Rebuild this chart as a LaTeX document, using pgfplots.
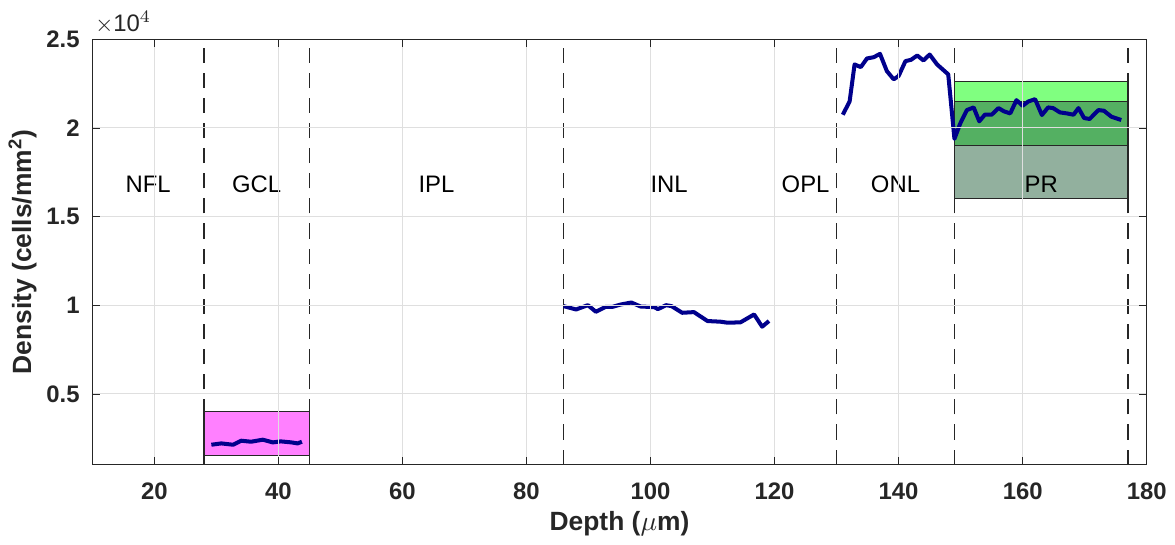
\documentclass[border=0pt]{standalone}
\usepackage{fontspec}
\setmainfont{Liberation Sans}
\usepackage{pgfplots}
\pgfplotsset{compat=1.18}

\definecolor{navyline}{RGB}{0,0,140}
\definecolor{axgrey}{RGB}{38,38,38}
\definecolor{gcl}{RGB}{255,128,255}
\definecolor{prtop}{RGB}{128,255,128}
\definecolor{prmid}{RGB}{84,176,98}
\definecolor{prbot}{RGB}{146,176,158}

\begin{document}
\begin{tikzpicture}
\begin{axis}[
    scale only axis,
    width=14.75cm, height=5.95cm,
    xmin=10, xmax=180,
    ymin=1000, ymax=25000,
    scaled y ticks=false,
    xtick={20,40,...,180},
    ytick={5000,10000,15000,20000,25000},
    yticklabels={0.5,1,1.5,2,2.5},
    tick align=inside,
    tick pos=both,
    major tick length=3pt,
    grid=major,
    major grid style={gray!25, line width=0.4pt},
    axis line style={axgrey, line width=0.5pt},
    tick style={axgrey},
    axis on top,
    font=\fontsize{9}{10}\selectfont,
    ticklabel style={font=\fontsize{9.5}{10}\selectfont\bfseries, text=axgrey},
    /pgf/number format/assume math mode=true,
    xlabel={\textbf{Depth (}$\mu$\textbf{m)}},
    ylabel={\textbf{Density (cells/mm\textsuperscript{2})}},
    label style={text=axgrey, font=\fontsize{10.5}{11}\selectfont},
    xticklabel style={yshift=-3.5pt},
    yticklabel style={xshift=-1.5pt},
    xlabel style={yshift=2pt},
    ylabel style={yshift=-3pt},
    clip=false,
]
% shaded reference ranges
\addplot[fill=gcl, draw=axgrey, line width=0.5pt] coordinates {(28,1500)(45,1500)(45,4000)(28,4000)} -- cycle;
\addplot[fill=prtop, draw=axgrey, line width=0.5pt] coordinates {(149,21500)(177,21500)(177,22600)(149,22600)} -- cycle;
\addplot[fill=prmid, draw=axgrey, line width=0.5pt] coordinates {(149,19000)(177,19000)(177,21500)(149,21500)} -- cycle;
\addplot[fill=prbot, draw=axgrey, line width=0.5pt] coordinates {(149,16000)(177,16000)(177,19000)(149,19000)} -- cycle;

% layer boundaries
\pgfplotsinvokeforeach{28,45,86,120,130,149,177}{
  \addplot[axgrey, line width=0.6pt, dash pattern=on 6pt off 4pt] coordinates {(#1,1000)(#1,25000)};
}

% density profiles
\addplot[navyline, line width=1.6pt, line join=round] coordinates {
(29.2,2125)(30.8,2200)(32.7,2125)(34.0,2352)(35.6,2295)(37.5,2409)
(39.1,2257)(40.4,2314)(42.1,2257)(43.1,2200)(43.8,2295)
};
\addplot[navyline, line width=1.6pt, line join=round] coordinates {
(86.0,9944)(88.0,9757)(89.9,10000)(91.2,9627)(92.8,9907)(93.9,9907)
(95.2,10037)(96.9,10150)(98.4,9925)(100.6,9888)(101.2,9776)(102.5,10000)
(103.4,9944)(105.1,9571)(107.0,9608)(109.2,9104)(111.3,9067)(112.4,9011)
(114.5,9030)(116.7,9477)(118.0,8787)(119.1,9104)
};
\addplot[navyline, line width=1.6pt, line join=round] coordinates {
(131.0,20746)(132.1,21493)(132.9,23583)(133.9,23433)(134.9,23919)(136.0,23993)
(137.0,24180)(138.1,23210)(139.2,22743)(140.0,22930)(141.1,23770)(142.0,23844)
(143.0,24087)(144.0,23807)(145.0,24143)(146.2,23583)(147.1,23303)(148.0,23023)
(149.0,19384)(149.9,20224)(151.0,21008)(152.1,21157)(153.0,20373)(153.9,20746)
(155.0,20746)(156.1,21120)(157.0,20933)(158.0,20821)(159.0,21567)(160.0,21250)
(160.9,21493)(162.0,21623)(163.1,20728)(164.1,21157)(164.9,21120)(166.0,20877)
(167.1,20821)(168.2,20746)(169.0,21120)(169.9,20560)(170.8,20504)(172.2,21008)
(173.1,20970)(174.3,20634)(175.9,20448)
};

% layer names
\foreach \x/\n in {19/NFL,36.5/GCL,65.5/IPL,103/INL,125/OPL,139.5/ONL,163/PR} {
  \edef\tmp{\noexpand\node[font=\noexpand\fontsize{9.5}{10}\noexpand\selectfont, text=black] at (axis cs:\x,16800) {\n};}
  \tmp
}
\node[anchor=south west, inner sep=1pt, yshift=1pt, text=axgrey, font=\fontsize{9.5}{10}\selectfont] at (rel axis cs:0,1) {$\times$10$^{4}$};
\end{axis}
% page margins like the reference
\path (current axis.north west) -- ++(0,0.55cm);
\path (current axis.south east) -- ++(0.35cm,-1.08cm);
\end{tikzpicture}
\end{document}
